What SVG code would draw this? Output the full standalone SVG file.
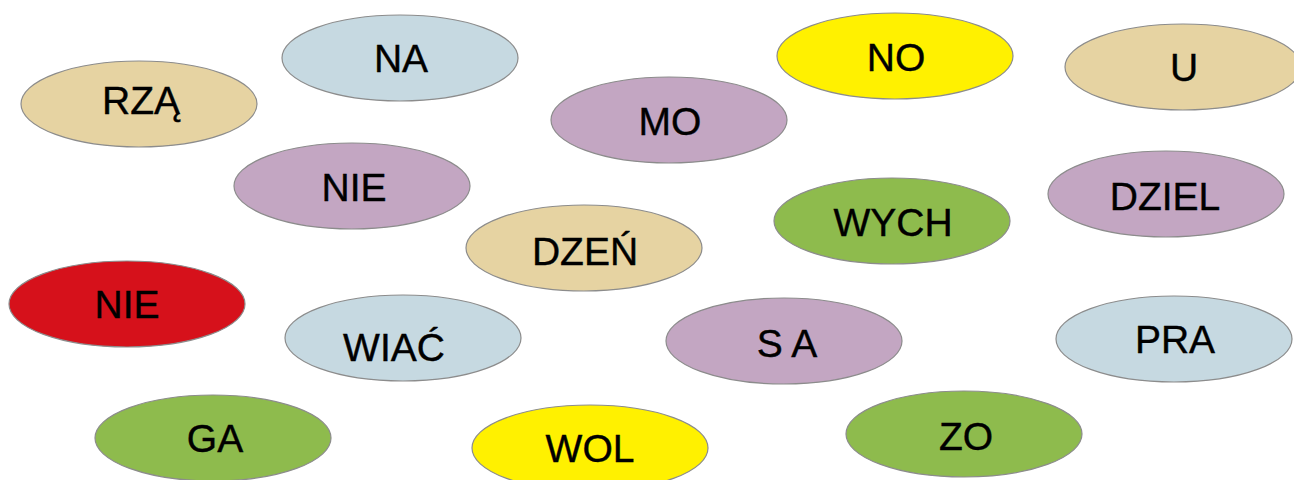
<svg xmlns="http://www.w3.org/2000/svg" width="1294" height="480" viewBox="0 0 1294 480">
<style>
  .b{stroke:#8c8c8c;stroke-width:1.2}
  .tan{fill:#E6D3A2}
  .blue{fill:#C6D9E1}
  .purple{fill:#C3A6C2}
  .yellow{fill:#FFF100}
  .green{fill:#8EBB4D}
  .red{fill:#D6111B}
  text{font-family:"Liberation Sans",Arial,sans-serif;font-size:39px;fill:#000;stroke:#000;stroke-width:0.4;text-anchor:middle}
</style>
<rect width="1294" height="480" fill="#ffffff"/>
<g id="n-rza"><ellipse class="b tan" cx="139" cy="104" rx="118" ry="43"/><text x="141" y="114">RZĄ</text></g>
<g id="n-na"><ellipse class="b blue" cx="400" cy="58" rx="118" ry="43"/><text x="401" y="72">NA</text></g>
<g id="n-mo"><ellipse class="b purple" cx="669" cy="120" rx="118" ry="43"/><text x="670" y="135">MO</text></g>
<g id="n-no"><ellipse class="b yellow" cx="895" cy="56" rx="118" ry="43"/><text x="896" y="71">NO</text></g>
<g id="n-u"><ellipse class="b tan" cx="1183" cy="67" rx="118" ry="43"/><text x="1184" y="81">U</text></g>
<g id="n-nie1"><ellipse class="b purple" cx="352" cy="186" rx="118" ry="43"/><text x="354" y="201">NIE</text></g>
<g id="n-dziel"><ellipse class="b purple" cx="1166" cy="194" rx="118" ry="43"/><text x="1165" y="210">DZIEL</text></g>
<g id="n-wych"><ellipse class="b green" cx="892" cy="221" rx="118" ry="43"/><text x="893" y="236">WYCH</text></g>
<g id="n-dzen"><ellipse class="b tan" cx="584" cy="248" rx="118" ry="43"/><text x="585" y="265">DZEŃ</text></g>
<g id="n-nie2"><ellipse class="b red" cx="127" cy="304" rx="118" ry="43"/><text x="127" y="318">NIE</text></g>
<g id="n-wiac"><ellipse class="b blue" cx="403" cy="338" rx="118" ry="43"/><text x="394" y="361">WIAĆ</text></g>
<g id="n-sa"><ellipse class="b purple" cx="784" cy="341" rx="118" ry="43"/><text x="787" y="357" xml:space="preserve">S A</text></g>
<g id="n-pra"><ellipse class="b blue" cx="1174" cy="339" rx="118" ry="43"/><text x="1175" y="353">PRA</text></g>
<g id="n-ga"><ellipse class="b green" cx="213" cy="438" rx="118" ry="43"/><text x="215" y="452">GA</text></g>
<g id="n-wol"><ellipse class="b yellow" cx="590" cy="448" rx="118" ry="43"/><text x="590" y="462">WOL</text></g>
<g id="n-zo"><ellipse class="b green" cx="964" cy="434" rx="118" ry="43"/><text x="966" y="450">ZO</text></g>
<g id="connectors"/>
</svg>
